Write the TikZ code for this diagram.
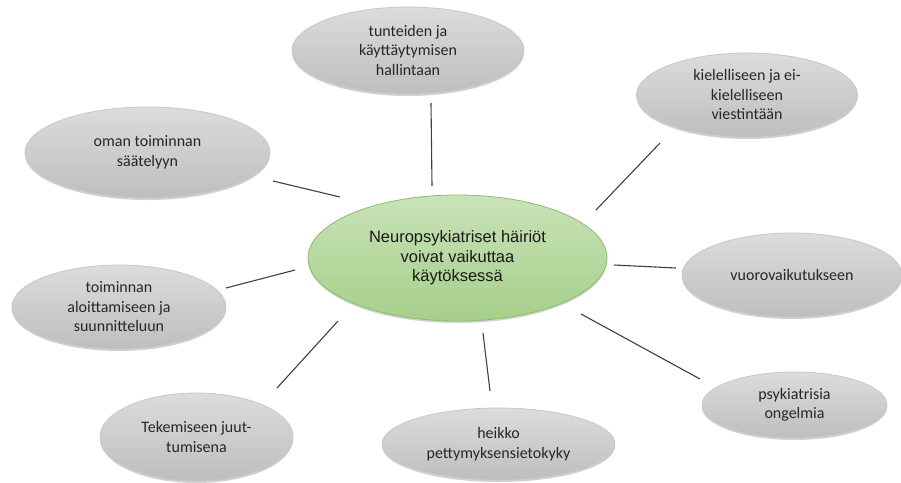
\documentclass[tikz,border=0pt]{standalone}
\usepackage{fontspec}
\setmainfont{Carlito}
\newfontfamily\arialf{Liberation Sans}
\usetikzlibrary{shapes.geometric,shadows}
\definecolor{graytop}{HTML}{DCDCDC}
\definecolor{graybot}{HTML}{BEBEBE}
\definecolor{graybd}{HTML}{C8C8C8}
\definecolor{greentop}{HTML}{C9E3B8}
\definecolor{greenbot}{HTML}{A6CF8A}
\definecolor{greenbd}{HTML}{8DBD6C}
\definecolor{linec}{HTML}{404040}
\tikzset{
  sat/.style={ellipse, draw=graybd, line width=0.8pt, top color=graytop, bottom color=graybot,
    inner sep=0pt, align=center, text=black!85,
    font=\fontsize{16}{19.5}\selectfont,
    drop shadow={shadow xshift=0pt, shadow yshift=-2pt, opacity=0.18, fill=black}},
  hub/.style={ellipse, draw=greenbd, line width=0.8pt, top color=greentop, bottom color=greenbot,
    inner sep=0pt, align=center, text=black!90,
    font=\arialf\fontsize{16.5}{19.5}\selectfont,
    drop shadow={shadow xshift=0pt, shadow yshift=-2pt, opacity=0.18, fill=black}},
  spoke/.style={draw=linec, line width=1.1pt}
}
\begin{document}
\begin{tikzpicture}[x=1pt,y=-1pt]
\useasboundingbox[fill=white] (0,0) rectangle (901,482);

\node[hub, minimum width=299pt, minimum height=126pt] (c) at (457.5,258)
  {Neuropsykiatriset häiriöt\\voivat vaikuttaa\\käytöksessä};

\node[sat, minimum width=232pt, minimum height=87pt] (t) at (408,50.5)
  {tunteiden ja\\käyttäytymisen\\hallintaan};
\node[sat, minimum width=245pt, minimum height=91pt] (o) at (147.5,152.5)
  {oman toiminnan\\säätelyyn};
\node[sat, minimum width=221pt, minimum height=84pt] (k) at (747,95)
  {kielelliseen ja ei-\\kielelliseen\\viestintään};
\node[sat, minimum width=214pt, minimum height=84pt] (a) at (119,307)
  {toiminnan\\aloittamiseen ja\\suunnitteluun};
\node[sat, minimum width=220pt, minimum height=84pt] (v) at (792,275)
  {vuorovaikutukseen};
\node[sat, minimum width=185pt, minimum height=66pt] (p) at (794.5,405)
  {psykiatrisia\\ongelmia};
\node[sat, minimum width=233pt, minimum height=72pt] (h) at (498.5,444)
  {heikko\\pettymyksensietokyky};
\node[sat, minimum width=193pt, minimum height=88pt] (e) at (196.5,437)
  {Tekemiseen juut-\\tumisena};

\coordinate (o1) at (273,181); \coordinate (o2) at (340,197);
\coordinate (t1) at (431,103); \coordinate (t2) at (432,186);
\coordinate (k1) at (660,143); \coordinate (k2) at (596,210);
\coordinate (v1) at (614,265); \coordinate (v2) at (676,268);
\coordinate (p1) at (581,314); \coordinate (p2) at (700,379);
\coordinate (h1) at (483,333); \coordinate (h2) at (490,391);
\coordinate (e1) at (338,321); \coordinate (e2) at (277,388);
\coordinate (a1) at (226,288); \coordinate (a2) at (295,270);

\draw[spoke] (o1) -- (o2);
\draw[spoke] (t1) -- (t2);
\draw[spoke] (k1) -- (k2);
\draw[spoke] (v1) -- (v2);
\draw[spoke] (p1) -- (p2);
\draw[spoke] (h1) -- (h2);
\draw[spoke] (e1) -- (e2);
\draw[spoke] (a1) -- (a2);
\end{tikzpicture}
\end{document}
